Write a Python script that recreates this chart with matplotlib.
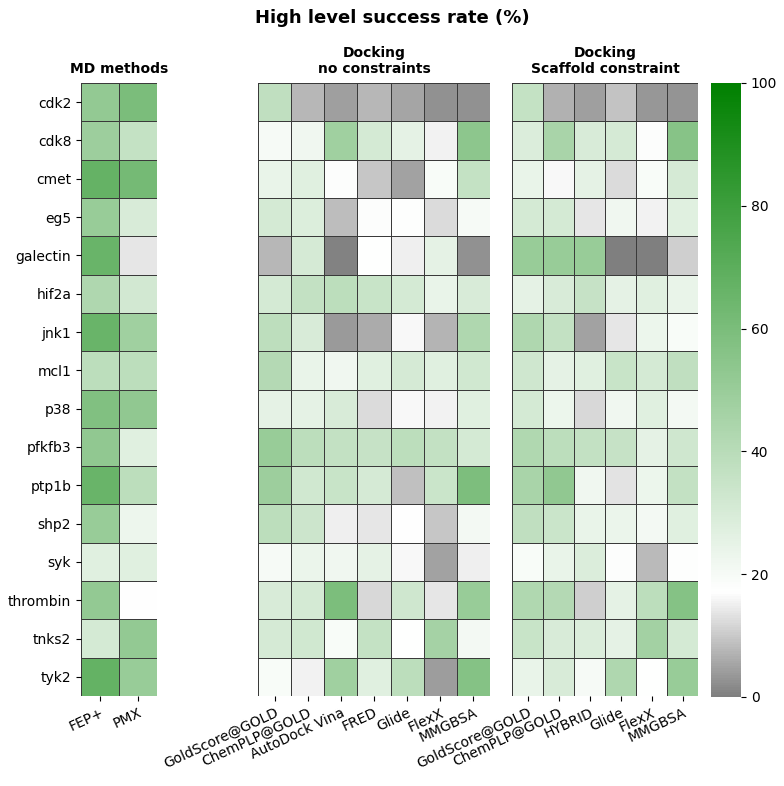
import numpy as np
import matplotlib
matplotlib.use("Agg")
import matplotlib.pyplot as plt
from matplotlib.colors import LinearSegmentedColormap, Normalize

targets = ["cdk2", "cdk8", "cmet", "eg5", "galectin", "hif2a", "jnk1", "mcl1",
           "p38", "pfkfb3", "ptp1b", "shp2", "syk", "thrombin", "tnks2", "tyk2"]

md_methods = ["FEP+", "PMX"]
md_values = [
    [52, 60], [49, 36], [67, 62], [50.5, 30], [66, 14], [43, 32], [66, 48], [39, 39],
    [58, 53], [53, 27], [66, 39], [50.5, 23], [27, 27], [52, 16.8], [31, 52], [67.5, 50.5],
]

nc_methods = ["GoldScore@GOLD", "ChemPLP@GOLD", "AutoDock Vina", "FRED", "Glide", "FlexX", "MMGBSA"]
nc_values = [
    [37.5, 7.5, 4.3, 7.5, 5.4, 2.5, 2.5],
    [20.3, 22, 48, 31, 25.5, 15.4, 54],
    [24.5, 27, 18, 9.6, 5, 19.3, 36],
    [31, 28.4, 8.4, 18.3, 17.6, 12.4, 20.3],
    [7.5, 30.7, 0.7, 17.2, 15, 25.5, 2.5],
    [31, 36.5, 39, 35, 31, 24.5, 30],
    [38.5, 30, 3.6, 6, 16.3, 7.1, 43],
    [41.7, 24.5, 22.2, 27, 30.7, 27, 32.3],
    [25.5, 25.5, 30, 12.2, 16.3, 15.4, 27.3],
    [50.5, 39, 36.5, 35.6, 39, 36.5, 31],
    [49, 32.3, 35, 30.7, 8.8, 34.3, 59.3],
    [39, 33.9, 15, 13.7, 17, 9.4, 20.9],
    [20.3, 23.8, 22, 25.5, 16.3, 4.7, 14.9],
    [30, 31, 59.7, 12, 32.6, 13.9, 50.5],
    [30.7, 32.3, 19.3, 36, 17.2, 46.3, 20.9],
    [19.3, 15.4, 48, 27, 39, 4, 57],
]

sc_methods = ["GoldScore@GOLD", "ChemPLP@GOLD", "HYBRID", "Glide", "FlexX", "MMGBSA"]
sc_values = [
    [36, 6.8, 4.3, 9, 3.3, 2.9],
    [28.7, 45.3, 30, 30.7, 18, 56],
    [24.5, 16.3, 25.5, 12.2, 19.3, 30.7],
    [31, 31, 13.9, 22.2, 15.4, 27],
    [50.5, 50.5, 50.5, 0, 0, 10.6],
    [25.5, 30, 35.6, 25.5, 27, 24.5],
    [43, 36.5, 5, 13.7, 23.2, 19.3],
    [32.6, 25.5, 27, 35, 31, 37.5],
    [31, 23.2, 11.8, 22, 27, 20.9],
    [42.7, 39, 36.5, 35.6, 25.5, 32.6],
    [45.3, 53, 22, 13.3, 23.2, 36.5],
    [37.5, 34, 24.5, 23.8, 20.9, 27],
    [19.3, 24.5, 28.7, 18, 7.9, 17.6],
    [42.7, 41.7, 10.6, 25.5, 39, 57],
    [35, 29.7, 28.7, 25.5, 47, 31],
    [24.5, 29.7, 20.3, 43, 17.2, 50.5],
]

cbar_ticks = [0, 20, 40, 60, 80, 100]

cmap = LinearSegmentedColormap.from_list(
    "gwg", [(0.0, "#7f7f7f"), (0.17, "#ffffff"), (1.0, "#008000")])
norm = Normalize(vmin=0, vmax=100)

W, H = 784, 786
fig = plt.figure(figsize=(W / 100, H / 100), dpi=100)


def px_axes(x0, x1, y0, y1):
    return fig.add_axes([x0 / W, 1 - y1 / H, (x1 - x0) / W, (y1 - y0) / H])


def draw(ax, values, cols, title, show_y):
    arr = np.array(values, dtype=float)
    ax.pcolormesh(arr, cmap=cmap, norm=norm, edgecolors="#3a3a3a", linewidth=0.5)
    ax.set_xlim(0, arr.shape[1])
    ax.set_ylim(arr.shape[0], 0)
    ax.set_xticks(np.arange(arr.shape[1]) + 0.5)
    ax.set_xticklabels(cols, rotation=25, ha="right", rotation_mode="anchor", fontsize=10)
    if show_y:
        ax.set_yticks(np.arange(arr.shape[0]) + 0.5)
        ax.set_yticklabels(targets, fontsize=10)
    else:
        ax.set_yticks([])
    for s in ax.spines.values():
        s.set_visible(False)
    ax.set_title(title, fontsize=10, fontweight="bold", pad=7)
    return ax


ax1 = px_axes(81, 157, 83, 696)
draw(ax1, md_values, md_methods, "MD methods", True)
ax2 = px_axes(258, 490, 83, 696)
draw(ax2, nc_values, nc_methods, "Docking\nno constraints", False)
ax3 = px_axes(512, 698, 83, 696)
draw(ax3, sc_values, sc_methods, "Docking\nScaffold constraint", False)

cax = px_axes(711, 741, 83, 697)
sm = matplotlib.cm.ScalarMappable(norm=norm, cmap=cmap)
cb = fig.colorbar(sm, cax=cax, ticks=cbar_ticks)
cb.outline.set_visible(False)
cb.ax.tick_params(labelsize=10)

fig.text(0.5, 1 - 18 / H, "High level success rate (%)", ha="center", va="center",
         fontsize=13, fontweight="bold")

fig.savefig("out.png", dpi=100)
